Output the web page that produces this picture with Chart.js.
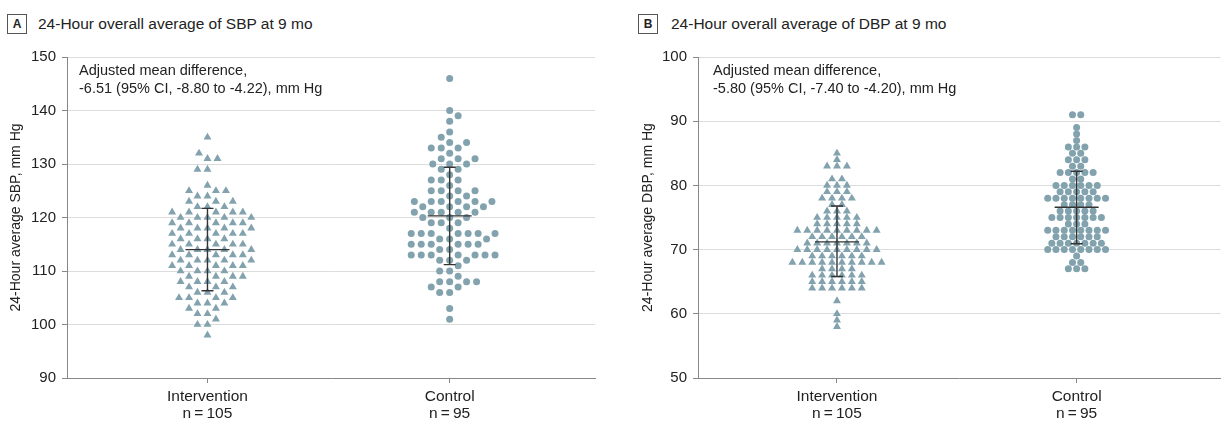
<!DOCTYPE html>
<html>
<head>
<meta charset="utf-8">
<script src="https://cdn.jsdelivr.net/npm/chart.js@4.4.1/dist/chart.umd.min.js"></script>
<style>
html,body{margin:0;padding:0;background:#fff;}
body{width:1225px;height:422px;position:relative;overflow:hidden;font-family:"Liberation Sans",Arial,sans-serif;color:#222;}
canvas{position:absolute;top:0;display:block;}
.box{position:absolute;top:14px;width:18px;height:18px;border:1px solid #555;font-size:12px;font-weight:bold;line-height:18px;text-align:center;color:#222;}
.ttl{position:absolute;top:14px;font-size:15.5px;line-height:20px;white-space:nowrap;color:#222;}
.note{position:absolute;top:61px;font-size:14.5px;line-height:18px;white-space:nowrap;color:#222;}
</style>
</head>
<body>
<div class="box" style="left:7px">A</div>
<div class="ttl" style="left:38px">24-Hour overall average of SBP at 9 mo</div>
<div class="box" style="left:638px">B</div>
<div class="ttl" style="left:671px">24-Hour overall average of DBP at 9 mo</div>
<canvas id="ca" width="600" height="422" style="left:0;width:600px;height:422px"></canvas>
<canvas id="cb" width="593" height="422" style="left:632px;width:593px;height:422px"></canvas>
<div class="note" style="left:79px">Adjusted mean difference,<br>-6.51 (95% CI, -8.80 to -4.22), mm Hg</div>
<div class="note" style="left:713px">Adjusted mean difference,<br>-5.80 (95% CI, -7.40 to -4.20), mm Hg</div>
<script>
// ---------- data ----------
const categoryPositions = [1, 2];
const categoryNames = ['Intervention', 'Control'];
const categoryCounts = ['n\u2009=\u2009105', 'n\u2009=\u200995'];

const sbpTicks = [90, 100, 110, 120, 130, 140, 150];
const dbpTicks = [50, 60, 70, 80, 90, 100];

const sbpIntervention = [135,132,131,131,129,129,126,125,125,125,124,124,123,123,123,122,122,122,121,121,121,121,121,120,120,120,120,120,119,119,119,119,119,118,118,118,118,118,117,117,117,117,117,116,116,116,116,115,115,115,115,115,114,114,114,114,114,113,113,113,113,113,112,112,112,112,112,111,111,111,111,111,110,110,110,110,109,109,109,109,108,108,108,108,107,107,107,106,106,106,105,105,105,105,104,104,104,103,103,102,102,101,100,100,98];
const sbpControl = [146,140,139,138,136,135,134,134,133,133,133,132,131,131,131,130,130,130,129,129,128,127,127,127,126,125,125,125,125,124,124,123,123,123,123,123,123,122,122,122,122,121,121,121,121,121,120,120,120,119,119,119,118,117,117,117,117,117,117,117,116,116,116,115,115,115,115,115,115,114,114,113,113,113,113,113,113,113,112,112,112,111,110,110,109,108,108,108,108,107,107,106,106,103,101];
const dbpIntervention = [85,84,83,83,83,81,81,80,80,80,79,79,79,78,78,78,78,77,77,76,76,76,75,75,75,75,75,74,74,74,74,74,73,73,73,73,73,73,73,73,73,72,72,72,72,72,72,71,71,71,71,71,71,71,70,70,70,70,70,70,70,70,70,69,69,69,69,69,69,68,68,68,68,68,68,68,68,68,68,67,67,67,67,66,66,66,66,66,66,65,65,65,65,65,65,64,64,64,64,64,64,62,60,59,58];
const dbpControl = [91,91,89,88,87,86,86,86,85,85,84,84,84,83,83,82,82,82,82,82,81,81,80,80,80,80,80,80,79,79,79,79,79,78,78,78,78,78,78,78,78,77,77,77,77,76,76,76,76,76,75,75,75,75,75,75,75,74,74,74,73,73,73,73,73,73,73,73,72,72,72,72,72,72,71,71,71,71,71,71,71,70,70,70,70,70,70,70,70,69,68,68,67,67,67];

// mean and ±SD (intervention, control)
const sbpMean = [114.0, 120.3];
const sbpLow  = [106.3, 111.2];
const sbpHigh = [121.7, 129.4];
const dbpMean = [71.2, 76.6];
const dbpLow  = [65.8, 70.9];
const dbpHigh = [76.8, 82.2];

// ---------- styling ----------
const FONT = '"Liberation Sans", Arial, sans-serif';
const MARK = '#82a2ae';
const TEXT = '#222';

const errorBarPlugin = {
  id: 'errbars',
  afterDatasetsDraw(chart, args, o) {
    const {ctx} = chart;
    const xs = chart.scales.x, ys = chart.scales.y;
    ctx.save();
    ctx.strokeStyle = o.color;
    ctx.lineWidth = o.width;
    o.means.forEach((m, i) => {
      const cx = xs.getPixelForValue(categoryPositions[i]);
      const yM = ys.getPixelForValue(m);
      const yL = ys.getPixelForValue(o.lows[i]);
      const yH = ys.getPixelForValue(o.highs[i]);
      ctx.beginPath();
      ctx.moveTo(cx, yH); ctx.lineTo(cx, yL);
      ctx.moveTo(cx - o.capHalf, yH); ctx.lineTo(cx + o.capHalf, yH);
      ctx.moveTo(cx - o.capHalf, yL); ctx.lineTo(cx + o.capHalf, yL);
      ctx.moveTo(cx - o.meanHalf, yM); ctx.lineTo(cx + o.meanHalf, yM);
      ctx.stroke();
    });
    ctx.restore();
  }
};

function makeChart(id, cfg) {
  return new Chart(document.getElementById(id), {
    type: 'scatter',
    data: {
      datasets: [
        {label: categoryNames[0], data: [], pointStyle: 'triangle', pointRadius: 4.6, pointHoverRadius: 4.6, backgroundColor: MARK, borderWidth: 0},
        {label: categoryNames[1], data: [], pointStyle: 'circle', pointRadius: 3.5, pointHoverRadius: 3.5, backgroundColor: MARK, borderWidth: 0}
      ]
    },
    options: {
      responsive: false,
      animation: false,
      events: [],
      layout: {padding: {top: 57, right: cfg.padRight, bottom: 0, left: 0}},
      plugins: {
        legend: {display: false},
        tooltip: {enabled: false},
        errbars: {means: cfg.means, lows: cfg.lows, highs: cfg.highs, color: '#333', width: 1.4, capHalf: 6, meanHalf: 22}
      },
      scales: {
        x: {
          type: 'linear', min: 0.42, max: 2.6,
          afterBuildTicks: s => { s.ticks = categoryPositions.map(v => ({value: v})); },
          afterFit: s => { s.height = 44; },
          ticks: {
            autoSkip: false, maxRotation: 0, padding: 5, color: TEXT,
            font: {family: FONT, size: 15.5, lineHeight: 1.1},
            callback: v => { const i = categoryPositions.indexOf(v); return i < 0 ? '' : [categoryNames[i], categoryCounts[i]]; }
          },
          grid: {drawOnChartArea: false, drawTicks: true, tickLength: 5, tickColor: '#888'},
          border: {color: '#888', width: 1}
        },
        y: {
          min: cfg.ticks[0], max: cfg.ticks[cfg.ticks.length - 1],
          afterBuildTicks: s => { s.ticks = cfg.ticks.map(v => ({value: v})); },
          afterFit: s => { s.width = cfg.yWidth; },
          ticks: {padding: 6, color: TEXT, font: {family: FONT, size: 15}},
          grid: {color: '#dcdcdc', tickColor: '#888', tickLength: 5, lineWidth: 1},
          border: {color: '#888', width: 1},
          title: {display: true, text: cfg.yTitle, color: TEXT, font: {family: FONT, size: 14}, padding: {top: 8, bottom: 0}}
        }
      }
    },
    plugins: [errorBarPlugin]
  });
}

// swarm layout: place each point as close to the centre line as possible without overlap
function swarmLayout(values, center, chart, d) {
  const xs = chart.scales.x, ys = chart.scales.y;
  const pxPerUnit = xs.getPixelForValue(1) - xs.getPixelForValue(0);
  const order = values.map((v, i) => i).sort((a, b) => values[a] - values[b]);
  const placed = [];
  const out = new Array(values.length);
  let flip = 1;
  for (const i of order) {
    const y = ys.getPixelForValue(values[i]);
    const near = placed.filter(p => Math.abs(p.y - y) < d);
    const cands = [0];
    for (const p of near) {
      const dx = Math.sqrt(d * d - (p.y - y) * (p.y - y));
      cands.push(p.x + dx, p.x - dx);
    }
    cands.sort((a, b) => (Math.abs(a) - Math.abs(b)) || (flip * (a - b)));
    let x = 0;
    for (const c of cands) {
      if (near.every(p => (p.x - c) * (p.x - c) + (p.y - y) * (p.y - y) >= d * d - 1e-6)) { x = c; break; }
    }
    if (x !== 0) flip = -flip;
    placed.push({x, y});
    out[i] = {x: center + x / pxPerUnit, y: values[i]};
  }
  return out;
}

// row layout: points with equal value sit in one centred row
function rowLayout(values, center, chart, spacing) {
  const xs = chart.scales.x;
  const pxPerUnit = xs.getPixelForValue(1) - xs.getPixelForValue(0);
  const groups = {};
  values.forEach(v => { groups[v] = (groups[v] || 0) + 1; });
  const out = [];
  Object.keys(groups).forEach(k => {
    const n = groups[k];
    for (let j = 0; j < n; j++) {
      const dx = (j - (n - 1) / 2) * spacing;
      out.push({x: center + dx / pxPerUnit, y: Number(k)});
    }
  });
  return out;
}

const chartA = makeChart('ca', {padRight: 5, yWidth: 67, ticks: sbpTicks, yTitle: '24-Hour average SBP, mm Hg', means: sbpMean, lows: sbpLow, highs: sbpHigh});
const chartB = makeChart('cb', {padRight: 0, yWidth: 66, ticks: dbpTicks, yTitle: '24-Hour average DBP, mm Hg', means: dbpMean, lows: dbpLow, highs: dbpHigh});

chartA.data.datasets[0].data = swarmLayout(sbpIntervention, categoryPositions[0], chartA, 10);
chartA.data.datasets[1].data = swarmLayout(sbpControl, categoryPositions[1], chartA, 10);
chartA.update('none');

chartB.data.datasets[0].data = rowLayout(dbpIntervention, categoryPositions[0], chartB, 10);
chartB.data.datasets[1].data = rowLayout(dbpControl, categoryPositions[1], chartB, 8.33);
chartB.update('none');
</script>
</body>
</html>
